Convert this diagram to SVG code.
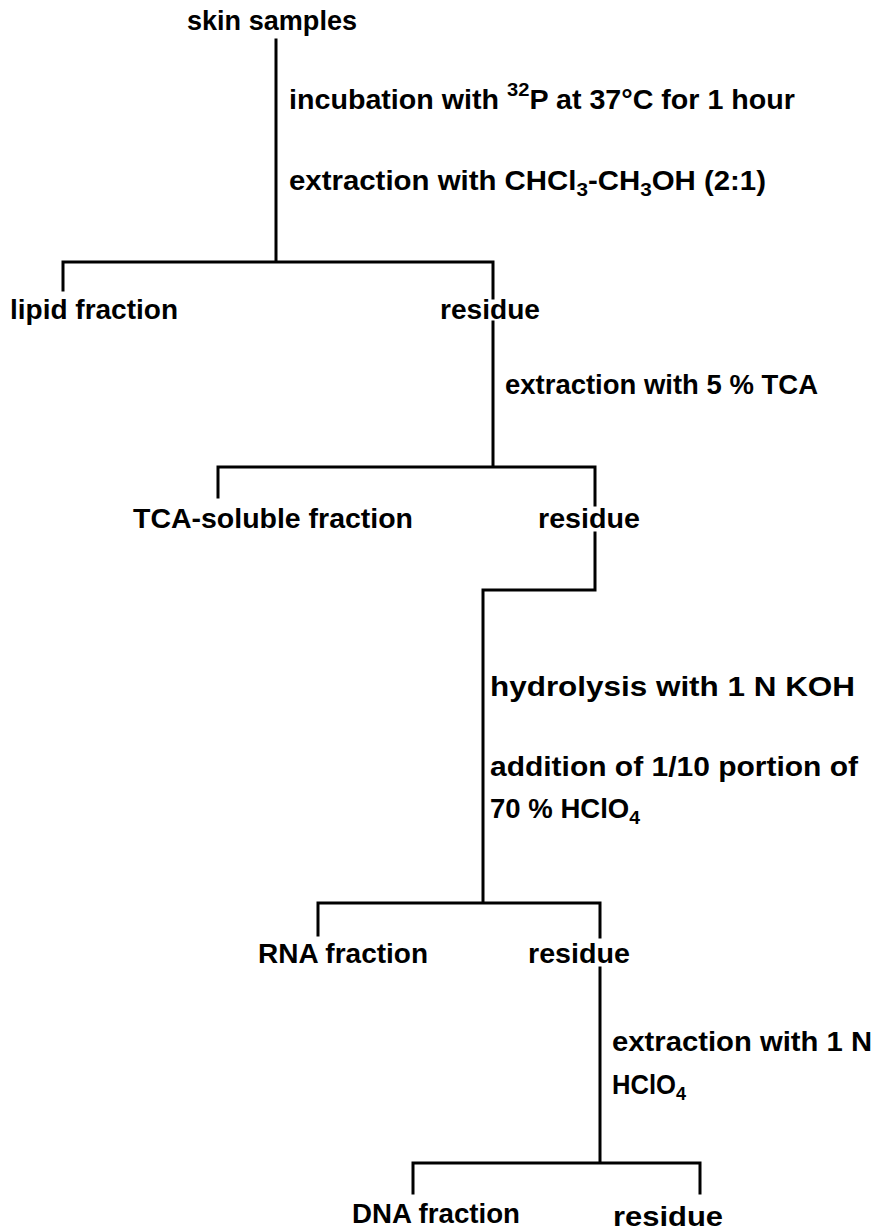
<svg xmlns="http://www.w3.org/2000/svg" width="874" height="1232" viewBox="0 0 874 1232">
<style>
text{font-family:"Liberation Sans",Arial,sans-serif;font-weight:bold;font-size:27px;fill:#000}
.sub{font-size:19px}
.c{stroke:#000;stroke-width:3;fill:none;stroke-linecap:square}
</style>
<rect width="874" height="1232" fill="#fff"/>
<g id="connectors">
<path class="c" d="M276 40V262M63 290V262H493V298M493 322V467M218 497V467H595V505M595 533V590H483V903M318 935V903H600V937M600 968V1163M413 1193V1163H700V1193"/>
</g>
<g id="n-skin"><text x="187" y="30" textLength="170" lengthAdjust="spacingAndGlyphs">skin samples</text></g>
<g id="l-incubation"><text x="289" y="109" textLength="506" lengthAdjust="spacingAndGlyphs">incubation with <tspan class="sub" dy="-13">32</tspan><tspan dy="13">P at 37°C  for 1 hour</tspan></text></g>
<g id="l-extraction1"><text x="289" y="190" textLength="477" lengthAdjust="spacingAndGlyphs">extraction with CHCl<tspan class="sub" dy="6">3</tspan><tspan dy="-6">-CH</tspan><tspan class="sub" dy="6">3</tspan><tspan dy="-6">OH (2:1)</tspan></text></g>
<g id="n-lipid"><text x="10" y="319" textLength="168" lengthAdjust="spacingAndGlyphs">lipid fraction</text></g>
<g id="n-residue1"><text x="440" y="319" textLength="100" lengthAdjust="spacingAndGlyphs">residue</text></g>
<g id="l-extraction2"><text x="505" y="394" textLength="313" lengthAdjust="spacingAndGlyphs">extraction with 5 % TCA</text></g>
<g id="n-tca"><text x="133" y="528" textLength="280" lengthAdjust="spacingAndGlyphs">TCA-soluble  fraction</text></g>
<g id="n-residue2"><text x="538" y="528" textLength="102" lengthAdjust="spacingAndGlyphs">residue</text></g>
<g id="l-hydrolysis"><text x="490" y="696" textLength="365" lengthAdjust="spacingAndGlyphs">hydrolysis  with 1 N  KOH</text></g>
<g id="l-addition"><text x="490" y="776" textLength="368" lengthAdjust="spacingAndGlyphs">addition of  1/10  portion of</text>
<text x="490" y="818" textLength="150" lengthAdjust="spacingAndGlyphs">70 % HClO<tspan class="sub" dy="6">4</tspan></text></g>
<g id="n-rna"><text x="258" y="963" textLength="170" lengthAdjust="spacingAndGlyphs">RNA fraction</text></g>
<g id="n-residue3"><text x="528" y="963" textLength="102" lengthAdjust="spacingAndGlyphs">residue</text></g>
<g id="l-extraction3"><text x="612" y="1051" textLength="260" lengthAdjust="spacingAndGlyphs">extraction with  1 N</text>
<text x="612" y="1094" textLength="74" lengthAdjust="spacingAndGlyphs">HClO<tspan class="sub" dy="6">4</tspan></text></g>
<g id="n-dna"><text x="352" y="1223" textLength="168" lengthAdjust="spacingAndGlyphs">DNA fraction</text></g>
<g id="n-residue4"><text x="613" y="1226" textLength="110" lengthAdjust="spacingAndGlyphs">residue</text></g>
</svg>
